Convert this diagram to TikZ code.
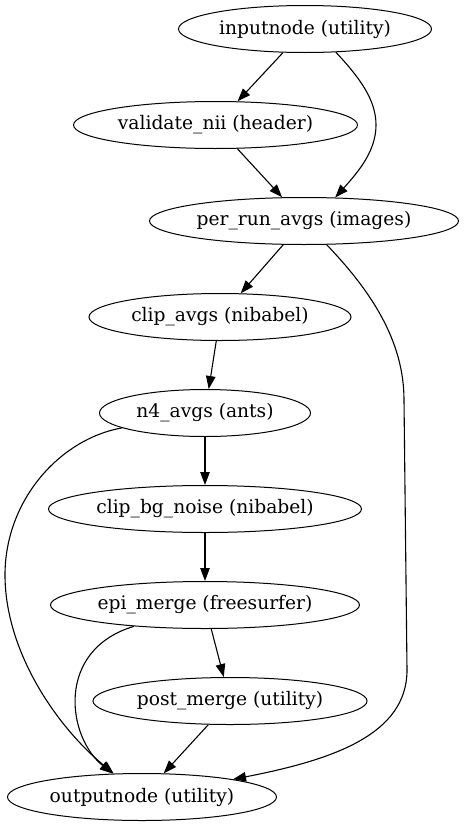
\documentclass[tikz,border=0pt]{standalone}
\usepackage{fontspec}
\setmainfont{DejaVu Serif}
\usetikzlibrary{shapes.geometric,arrows.meta}
\tikzset{
  gnode/.style={draw, ellipse, line width=1pt, inner sep=0pt, minimum height=47pt,
    font=\fontsize{18.67}{22}\selectfont},
  gedge/.style={draw, line width=1.1pt, -{Triangle[length=13pt,width=9.5pt]}},
}
\begin{document}
\begin{tikzpicture}[x=1pt,y=-1pt]
\useasboundingbox (0,0) rectangle (466,827);
\fill[white] (0,0) rectangle (466,827);
\node[gnode, minimum width=253pt] (in)   at (305,29)  {inputnode (utility)};
\node[gnode, minimum width=284pt] (val)  at (215.5,125) {validate\_nii (header)};
\node[gnode, minimum width=309pt] (per)  at (304,221) {per\_run\_avgs (images)};
\node[gnode, minimum width=262pt] (clip) at (220,317) {clip\_avgs (nibabel)};
\node[gnode, minimum width=211pt] (n4)   at (205,413) {n4\_avgs (ants)};
\node[gnode, minimum width=313pt] (bg)   at (205,509) {clip\_bg\_noise (nibabel)};
\node[gnode, minimum width=309pt] (epi)  at (205,605) {epi\_merge (freesurfer)};
\node[gnode, minimum width=274pt] (post) at (230,701) {post\_merge (utility)};
\node[gnode, minimum width=269pt] (out)  at (142,797) {outputnode (utility)};

\draw[gedge] (in) -- (val);
\draw[gedge] (in.-37.5) .. controls (360,78) and (376,100) .. (376,125) .. controls (376,150) and (360,170) .. (per.37.7);
\draw[gedge] (val) -- (per);
\draw[gedge] (per) -- (clip);
\draw[gedge] (per) .. controls (370,290) and (404,340) .. (404,400) -- (407,670) .. controls (407,735) and (332,760) .. (out);
\draw[gedge] (clip) -- (n4);
\draw[gedge] (n4) -- (bg);
\draw[gedge] (n4) .. controls (60,439) and (5,500) .. (5,575) .. controls (5,650) and (55,725) .. (out);
\draw[gedge] (bg) -- (epi);
\draw[gedge] (epi) -- (post);
\draw[gedge] (epi) .. controls (55,650) and (67,737) .. (out);
\draw[gedge] (post) -- (out);
\end{tikzpicture}
\end{document}
